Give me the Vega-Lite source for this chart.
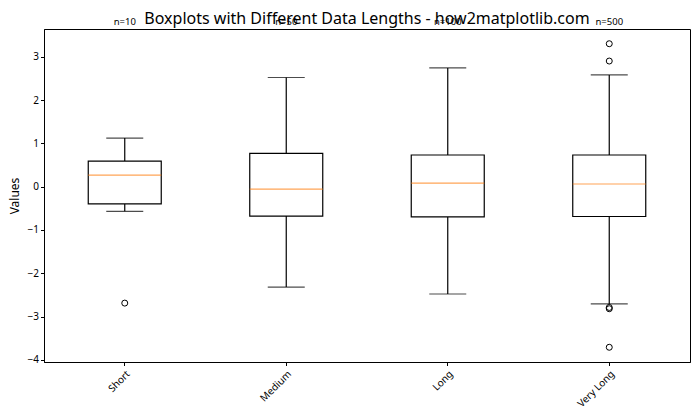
{
  "$schema": "https://vega.github.io/schema/vega-lite/v6.json",
  "width": 646,
  "height": 333,
  "autosize": {"type": "none"},
  "padding": {"left": 44, "top": 29, "right": 10, "bottom": 58},
  "background": "white",
  "config": {
    "font": "Noto Sans",
    "view": {"stroke": "black", "strokeWidth": 1},
    "axis": {"grid": false, "domainColor": "black", "tickColor": "black", "labelColor": "black", "titleColor": "black", "tickSize": 3.5, "labelFontSize": 10, "titleFontSize": 12, "titleFontWeight": "normal", "labelFont": "Noto Sans", "titleFont": "Noto Sans"}
  },
  "title": {"text": "Boxplots with Different Data Lengths - how2matplotlib.com", "fontSize": 16, "fontWeight": "normal", "font": "Noto Sans", "color": "black", "anchor": "middle", "offset": -10},
  "datasets": {
    "stats": [
      {"cat": "Short", "n": "n=10", "lower": -0.57, "q1": -0.40, "median": 0.265, "q3": 0.59, "upper": 1.12},
      {"cat": "Medium", "n": "n=50", "lower": -2.32, "q1": -0.68, "median": -0.06, "q3": 0.77, "upper": 2.52},
      {"cat": "Long", "n": "n=100", "lower": -2.48, "q1": -0.70, "median": 0.08, "q3": 0.73, "upper": 2.74},
      {"cat": "Very Long", "n": "n=500", "lower": -2.71, "q1": -0.69, "median": 0.06, "q3": 0.73, "upper": 2.58}
    ],
    "outliers": [
      {"cat": "Short", "value": -2.69},
      {"cat": "Very Long", "value": 3.30},
      {"cat": "Very Long", "value": 2.90},
      {"cat": "Very Long", "value": -2.79},
      {"cat": "Very Long", "value": -2.82},
      {"cat": "Very Long", "value": -3.71}
    ]
  },
  "encoding": {
    "x": {"field": "cat", "type": "nominal", "sort": ["Short", "Medium", "Long", "Very Long"],
      "scale": {"paddingInner": 0.548, "paddingOuter": 0.274},
      "axis": {"title": null, "labelAngle": -45, "labelAlign": "right", "labelBaseline": "top", "labelPadding": 3, "labelFontSize": 10}}
  },
  "layer": [
    {
      "data": {"name": "stats"},
      "mark": {"type": "rule", "color": "black", "strokeWidth": 1.2},
      "encoding": {
        "y": {"field": "upper", "type": "quantitative", "scale": {"domain": [-4.05, 3.64], "nice": false, "zero": false},
          "axis": {"title": "Values", "values": [-4, -3, -2, -1, 0, 1, 2, 3], "titlePadding": 6}},
        "y2": {"field": "lower"}
      }
    },
    {
      "data": {"name": "stats"},
      "mark": {"type": "bar", "fill": "white", "stroke": "black", "strokeWidth": 1.2},
      "encoding": {
        "y": {"field": "q1", "type": "quantitative"},
        "y2": {"field": "q3"}
      }
    },
    {
      "data": {"name": "stats"},
      "mark": {"type": "tick", "orient": "horizontal", "color": "#ff7f0e", "size": 73, "thickness": 1.2},
      "encoding": {"y": {"field": "median", "type": "quantitative"}}
    },
    {
      "data": {"name": "stats"},
      "mark": {"type": "tick", "orient": "horizontal", "color": "black", "size": 37, "thickness": 1.2},
      "encoding": {"y": {"field": "upper", "type": "quantitative"}}
    },
    {
      "data": {"name": "stats"},
      "mark": {"type": "tick", "orient": "horizontal", "color": "black", "size": 37, "thickness": 1.2},
      "encoding": {"y": {"field": "lower", "type": "quantitative"}}
    },
    {
      "data": {"name": "outliers"},
      "mark": {"type": "point", "shape": "circle", "filled": false, "stroke": "black", "strokeWidth": 1, "size": 36, "opacity": 1},
      "encoding": {"y": {"field": "value", "type": "quantitative"}}
    },
    {
      "data": {"name": "stats"},
      "mark": {"type": "text", "baseline": "bottom", "align": "center", "fontSize": 9.5, "color": "black", "dy": -2},
      "encoding": {
        "y": {"datum": 3.64},
        "text": {"field": "n"}
      }
    }
  ]
}
